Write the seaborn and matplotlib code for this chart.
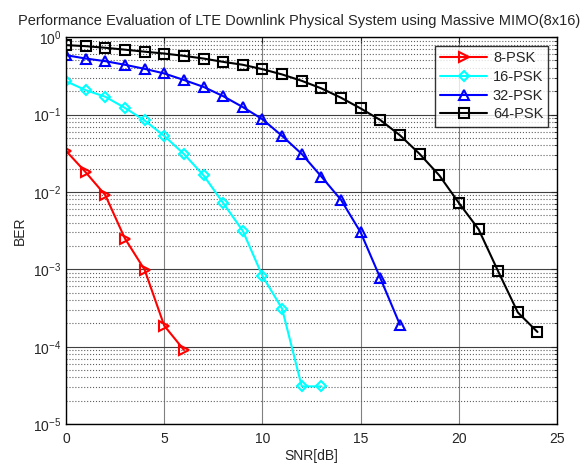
import matplotlib
matplotlib.use("Agg")
import matplotlib.pyplot as plt
import seaborn as sns
import pandas as pd
from matplotlib.ticker import LogLocator, NullFormatter, MultipleLocator

# BER values
snr_8psk = [0, 1, 2, 3, 4, 5, 6]
ber_8psk = [0.034, 0.018, 0.0091, 0.0025, 0.00099, 1.87e-4, 9.1e-5]

snr_16psk = list(range(0, 14))
ber_16psk = [0.27, 0.207, 0.17, 0.122, 0.084, 0.053, 0.031, 0.0164,
             0.0072, 0.00314, 8.2e-4, 3.1e-4, 3.07e-5, 3.07e-5]

snr_32psk = list(range(0, 18))
ber_32psk = [0.586, 0.53, 0.49, 0.44, 0.39, 0.34, 0.28, 0.228, 0.173,
             0.125, 0.087, 0.053, 0.031, 0.0158, 0.0079, 0.0030, 7.7e-4, 1.92e-4]

snr_64psk = list(range(0, 25))
ber_64psk = [0.79, 0.766, 0.73, 0.69, 0.65, 0.615, 0.574, 0.53, 0.48, 0.44,
             0.386, 0.33, 0.273, 0.218, 0.165, 0.12, 0.085, 0.054, 0.031,
             0.0164, 0.0072, 0.0033, 9.4e-4, 2.77e-4, 1.55e-4]

series = [
    ("8-PSK", snr_8psk, ber_8psk, "#ff0000", ">"),
    ("16-PSK", snr_16psk, ber_16psk, "#00ffff", "D"),
    ("32-PSK", snr_32psk, ber_32psk, "#0000ff", "^"),
    ("64-PSK", snr_64psk, ber_64psk, "#000000", "s"),
]

sns.set_style("white")
plt.rcParams['font.family'] = ['Liberation Sans', 'DejaVu Sans']
plt.rcParams['mathtext.fontset'] = 'custom'
plt.rcParams['mathtext.rm'] = 'Liberation Sans'

fig = plt.figure(figsize=(5.84, 4.65), dpi=100)
ax = fig.add_axes([0.113, 0.088, 0.841, 0.832])

for name, x, y, col, mk in series:
    df = pd.DataFrame({"SNR": x, "BER": y})
    ms = 5.5 if mk == "D" else 7
    sns.lineplot(data=df, x="SNR", y="BER", ax=ax, color=col, marker=mk,
                 markersize=ms, markerfacecolor="none", markeredgecolor=col,
                 markeredgewidth=1.5, linewidth=1.5, label=name)

ax.set_yscale("log")
ax.set_xlim(0, 25)
ax.set_ylim(1e-5, 1)
ax.xaxis.set_major_locator(MultipleLocator(5))
ax.yaxis.set_major_locator(LogLocator(base=10, numticks=10))
ax.yaxis.set_minor_locator(LogLocator(base=10, subs=range(2, 10), numticks=10))
ax.yaxis.set_minor_formatter(NullFormatter())

ax.grid(True, which="major", axis="x", color="#808080", linestyle="-", linewidth=0.8)
ax.grid(True, which="major", axis="y", color="#404040", linestyle="-", linewidth=0.8)
ax.grid(True, which="minor", axis="y", color="#606060", linestyle=":", linewidth=0.8)

ax.tick_params(which="both", direction="in", top=True, right=True, labelsize=10)
ax.tick_params(which="major", length=4)
ax.tick_params(which="minor", length=2)
ax.tick_params(axis="x", pad=6)
for s in ax.spines.values():
    s.set_color("black")
    s.set_linewidth(1.0)

ax.set_title("Performance Evaluation of LTE Downlink Physical System using Massive MIMO(8x16)",
             fontsize=10.5, pad=9, x=0.474)
ax.set_xlabel("SNR[dB]", fontsize=10, labelpad=2)
ax.set_ylabel("BER", fontsize=10, labelpad=4)

leg = ax.legend(loc="upper right", fontsize=10.5, frameon=True, fancybox=False,
                borderaxespad=0.6, handlelength=3.2, labelspacing=0.33,
                borderpad=0.35, handletextpad=0.4)
leg.get_frame().set_edgecolor("black")
leg.get_frame().set_linewidth(1.0)

fig.savefig("out.png", dpi=100)
